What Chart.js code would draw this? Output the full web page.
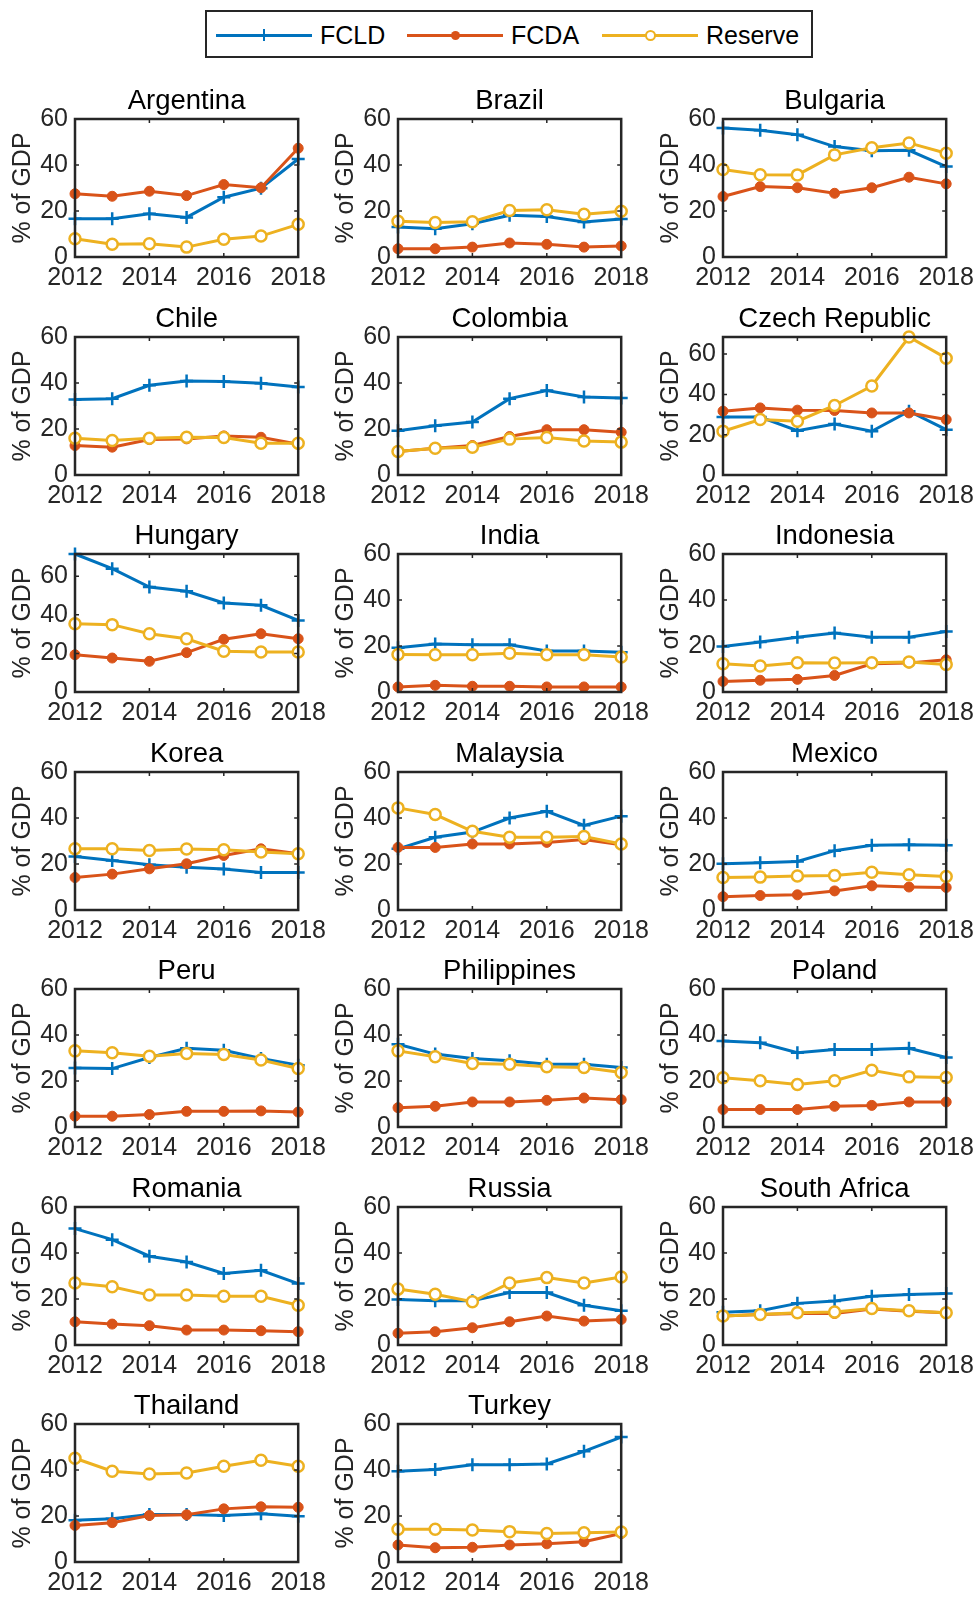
<!DOCTYPE html>
<html>
<head>
<meta charset="utf-8">
<script src="https://cdn.jsdelivr.net/npm/chart.js@4.4.0/dist/chart.umd.min.js"></script>
<style>
  body { margin: 0; background: #fff; }
  #page { position: relative; width: 975px; height: 1598px; overflow: hidden;
          font-family: "Liberation Sans", Arial, sans-serif; }
  #page canvas, #page .abs { position: absolute; }
</style>
</head>
<body>
<div id="page"></div>
<script>
const years = [2012, 2013, 2014, 2015, 2016, 2017, 2018];
const xTicks = [2012, 2014, 2016, 2018];
const yTicks = [0, 20, 40, 60];

const seriesNames = ['FCLD', 'FCDA', 'Reserve'];
const seriesColors = ['#0072BD', '#D95319', '#EDB120'];

const countries = [
  'Argentina', 'Brazil', 'Bulgaria',
  'Chile', 'Colombia', 'Czech Republic',
  'Hungary', 'India', 'Indonesia',
  'Korea', 'Malaysia', 'Mexico',
  'Peru', 'Philippines', 'Poland',
  'Romania', 'Russia', 'South Africa',
  'Thailand', 'Turkey'
];

// one row per country, same order as above (% of GDP)
const fcld = [
  [16.6, 16.6, 18.8, 17.2, 26.0, 29.9, 42.6],
  [13.0, 12.3, 14.5, 18.1, 17.6, 15.2, 16.5],
  [56.1, 55.1, 53.2, 48.0, 46.2, 46.4, 39.3],
  [32.8, 33.2, 39.0, 40.9, 40.6, 39.9, 38.3],
  [19.2, 21.4, 23.0, 33.2, 36.7, 33.9, 33.5],
  [28.8, 28.8, 22.0, 25.3, 21.7, 31.7, 22.5],
  [71.5, 63.9, 54.4, 52.2, 46.1, 44.9, 37.1],
  [19.2, 20.9, 20.5, 20.5, 17.8, 17.8, 17.3],
  [19.8, 21.7, 23.8, 25.7, 23.8, 23.8, 26.3],
  [23.3, 21.5, 19.7, 18.6, 17.8, 16.3, 16.3],
  [26.6, 31.6, 33.9, 40.0, 42.9, 36.8, 40.8],
  [20.1, 20.5, 21.1, 25.8, 28.1, 28.4, 28.1],
  [25.7, 25.4, 30.2, 34.2, 33.4, 29.8, 26.9],
  [36.0, 31.7, 29.8, 28.8, 27.3, 27.3, 25.9],
  [37.4, 36.6, 32.3, 33.7, 33.7, 34.2, 30.2],
  [50.6, 45.8, 38.6, 36.1, 31.1, 32.5, 26.7],
  [19.8, 19.2, 19.2, 22.8, 22.8, 17.3, 14.9],
  [14.2, 14.9, 18.1, 19.1, 21.2, 22.0, 22.4],
  [18.1, 18.8, 20.7, 20.7, 20.2, 21.0, 19.9],
  [39.5, 40.2, 42.3, 42.3, 42.6, 48.1, 54.3]
];

const fcda = [
  [27.5, 26.4, 28.6, 26.7, 31.5, 30.1, 47.3],
  [3.6, 3.6, 4.3, 6.1, 5.5, 4.3, 4.8],
  [26.3, 30.6, 30.1, 27.7, 30.1, 34.7, 31.8],
  [12.8, 12.1, 15.4, 15.7, 17.0, 16.4, 13.4],
  [10.2, 11.6, 12.8, 16.7, 19.7, 19.7, 18.6],
  [31.7, 33.3, 32.2, 32.0, 30.8, 30.8, 27.5],
  [19.3, 17.6, 15.9, 20.4, 27.3, 30.2, 27.6],
  [2.2, 2.9, 2.5, 2.5, 2.2, 2.2, 2.2],
  [4.6, 5.1, 5.5, 7.2, 12.3, 12.6, 14.0],
  [14.1, 15.6, 17.9, 20.1, 23.7, 26.6, 24.5],
  [27.2, 27.2, 28.7, 28.7, 29.4, 30.6, 28.4],
  [5.8, 6.3, 6.6, 8.3, 10.5, 10.0, 9.8],
  [4.7, 4.7, 5.4, 6.8, 6.8, 7.0, 6.5],
  [8.4, 9.0, 10.9, 10.9, 11.6, 12.6, 11.9],
  [7.6, 7.6, 7.6, 9.0, 9.4, 10.9, 10.9],
  [10.1, 9.1, 8.4, 6.5, 6.5, 6.2, 5.8],
  [5.1, 5.8, 7.5, 10.1, 12.6, 10.4, 11.1],
  [12.6, 13.3, 13.7, 13.7, 15.6, 14.7, 14.0],
  [15.9, 17.1, 20.2, 20.5, 23.1, 24.0, 23.8],
  [7.4, 6.2, 6.4, 7.4, 7.9, 8.8, 12.4]
];

const reserve = [
  [7.9, 5.5, 5.8, 4.3, 7.7, 9.1, 14.2],
  [15.5, 15.0, 15.3, 20.2, 20.5, 18.6, 19.9],
  [38.0, 35.8, 35.7, 44.4, 47.5, 49.6, 45.1],
  [16.0, 15.0, 16.0, 16.4, 16.3, 13.8, 13.8],
  [10.2, 11.6, 12.1, 15.6, 16.3, 14.8, 14.3],
  [21.7, 27.5, 26.7, 34.5, 44.2, 68.5, 58.0],
  [35.4, 34.9, 30.2, 27.6, 21.1, 20.7, 20.7],
  [16.3, 16.2, 16.2, 16.9, 16.2, 16.2, 15.2],
  [12.3, 11.3, 12.7, 12.6, 12.7, 13.0, 12.0],
  [26.6, 26.6, 25.9, 26.5, 26.2, 25.2, 24.5],
  [44.4, 41.5, 34.2, 31.6, 31.6, 32.0, 28.7],
  [14.1, 14.3, 14.8, 15.0, 16.4, 15.3, 14.6],
  [33.1, 32.3, 30.8, 32.0, 31.5, 29.1, 25.4],
  [33.1, 30.5, 27.6, 27.3, 26.2, 25.9, 23.7],
  [21.4, 20.1, 18.5, 20.1, 24.7, 21.8, 21.5],
  [27.0, 25.3, 21.7, 21.7, 21.2, 21.2, 17.3],
  [24.3, 22.1, 18.8, 27.0, 29.3, 27.0, 29.6],
  [12.6, 13.3, 14.0, 14.3, 15.9, 14.9, 14.0],
  [45.1, 39.5, 38.3, 38.7, 41.6, 44.2, 41.6],
  [14.2, 14.2, 13.9, 13.2, 12.4, 12.7, 13.0]
];

const FONT = '"Liberation Sans", Arial, sans-serif';
const AXIS = '#262626';
Chart.defaults.font.family = FONT;

const page = document.getElementById('page');

function el(tag, css) {
  const d = document.createElement(tag);
  d.className = 'abs';
  Object.assign(d.style, css);
  page.appendChild(d);
  return d;
}

// legend box across the top
el('div', { left: '205px', top: '10px', width: '608px', height: '48px',
            border: '2.5px solid ' + AXIS, boxSizing: 'border-box' });
const keyLeft = [216, 407, 602];
seriesNames.forEach((name, i) => {
  const c = seriesColors[i];
  const x0 = keyLeft[i], cx = x0 + 48, cy = 35;
  el('div', { left: x0 + 'px', top: (cy - 1.5) + 'px', width: '96px', height: '3px', background: c });
  if (i === 0) {
    el('div', { left: (cx - 1.25) + 'px', top: (cy - 6) + 'px', width: '2.5px', height: '12px', background: c });
  } else if (i === 1) {
    el('div', { left: (cx - 4.5) + 'px', top: (cy - 4.5) + 'px', width: '9px', height: '9px',
                borderRadius: '50%', background: c });
  } else {
    el('div', { left: (cx - 5.5) + 'px', top: (cy - 5.5) + 'px', width: '11px', height: '11px',
                borderRadius: '50%', border: '2px solid ' + c, background: '#fff', boxSizing: 'border-box' });
  }
  const t = el('div', { left: (x0 + 104) + 'px', top: (cy - 15) + 'px', fontSize: '25px',
                        lineHeight: '30px', color: '#000' });
  t.textContent = name;
});

// box around the plot area plus inward ticks on all four sides
const frame = {
  id: 'frame',
  afterDatasetsDraw(chart) {
    const { ctx, chartArea: a, scales: { x, y } } = chart;
    ctx.save();
    ctx.strokeStyle = AXIS;
    ctx.lineWidth = 1.5;
    ctx.beginPath();
    xTicks.forEach(v => {
      const px = x.getPixelForValue(v);
      ctx.moveTo(px, a.bottom); ctx.lineTo(px, a.bottom - 4);
      ctx.moveTo(px, a.top); ctx.lineTo(px, a.top + 4);
    });
    yTicks.forEach(v => {
      const py = y.getPixelForValue(v);
      ctx.moveTo(a.left, py); ctx.lineTo(a.left + 4, py);
      ctx.moveTo(a.right, py); ctx.lineTo(a.right - 4, py);
    });
    ctx.stroke();
    ctx.lineWidth = 2.5;
    ctx.strokeRect(a.left, a.top, a.width, a.height);
    ctx.restore();
  }
};

const panelLeft = [0, 323, 648];

function points(vals) {
  return years.map((yr, i) => ({ x: yr, y: vals[i] }));
}

countries.forEach((name, k) => {
  const col = k % 3, row = Math.floor(k / 3);
  const canvas = document.createElement('canvas');
  canvas.width = 332;
  canvas.height = 227;
  canvas.style.left = panelLeft[col] + 'px';
  canvas.style.top = (Math.round(119 + row * 217.5) - 44) + 'px';
  page.appendChild(canvas);

  const yMax = Math.max(60, ...fcld[k], ...fcda[k], ...reserve[k]);

  new Chart(canvas, {
    type: 'line',
    data: {
      datasets: [
        { label: 'FCLD', data: points(fcld[k]), borderColor: seriesColors[0], backgroundColor: seriesColors[0],
          borderWidth: 3, pointStyle: 'cross', pointRadius: 6.5, pointBorderWidth: 2.5, order: 2 },
        { label: 'FCDA', data: points(fcda[k]), borderColor: seriesColors[1], backgroundColor: seriesColors[1],
          borderWidth: 3, pointStyle: 'circle', pointRadius: 5, pointBorderWidth: 1, order: 1 },
        { label: 'Reserve', data: points(reserve[k]), borderColor: seriesColors[2], pointBackgroundColor: '#fff',
          borderWidth: 3, pointStyle: 'circle', pointRadius: 5.5, pointBorderWidth: 2.5, order: 0 }
      ].map(d => Object.assign(d, { tension: 0, clip: false, fill: false }))
    },
    options: {
      responsive: false,
      animation: false,
      events: [],
      layout: { padding: { left: 0, right: 30, top: 0, bottom: 0 } },
      plugins: {
        legend: { display: false },
        tooltip: { enabled: false },
        title: {
          display: true, text: name, color: '#000', fullSize: false,
          font: { size: 27.5, weight: 'normal', family: FONT },
          padding: { top: 10, bottom: 1 }
        }
      },
      scales: {
        x: {
          type: 'linear', min: 2012, max: 2018,
          afterBuildTicks: s => { s.ticks = xTicks.map(v => ({ value: v })); },
          afterFit: s => { s.height = 45; },
          grid: { display: false, drawTicks: false },
          border: { display: false },
          ticks: { callback: v => String(v), color: AXIS, font: { size: 25 }, padding: 6,
                   maxRotation: 0, autoSkip: false }
        },
        y: {
          type: 'linear', min: 0, max: yMax,
          afterBuildTicks: s => { s.ticks = yTicks.map(v => ({ value: v })); },
          afterFit: s => { s.width = 75; },
          grid: { display: false, drawTicks: false },
          border: { display: false },
          ticks: { color: AXIS, font: { size: 25 }, padding: 7 },
          title: { display: true, text: '% of GDP', color: AXIS, font: { size: 25 },
                   padding: { top: 8, bottom: 0 } }
        }
      }
    },
    plugins: [frame]
  });
});
</script>
</body>
</html>
